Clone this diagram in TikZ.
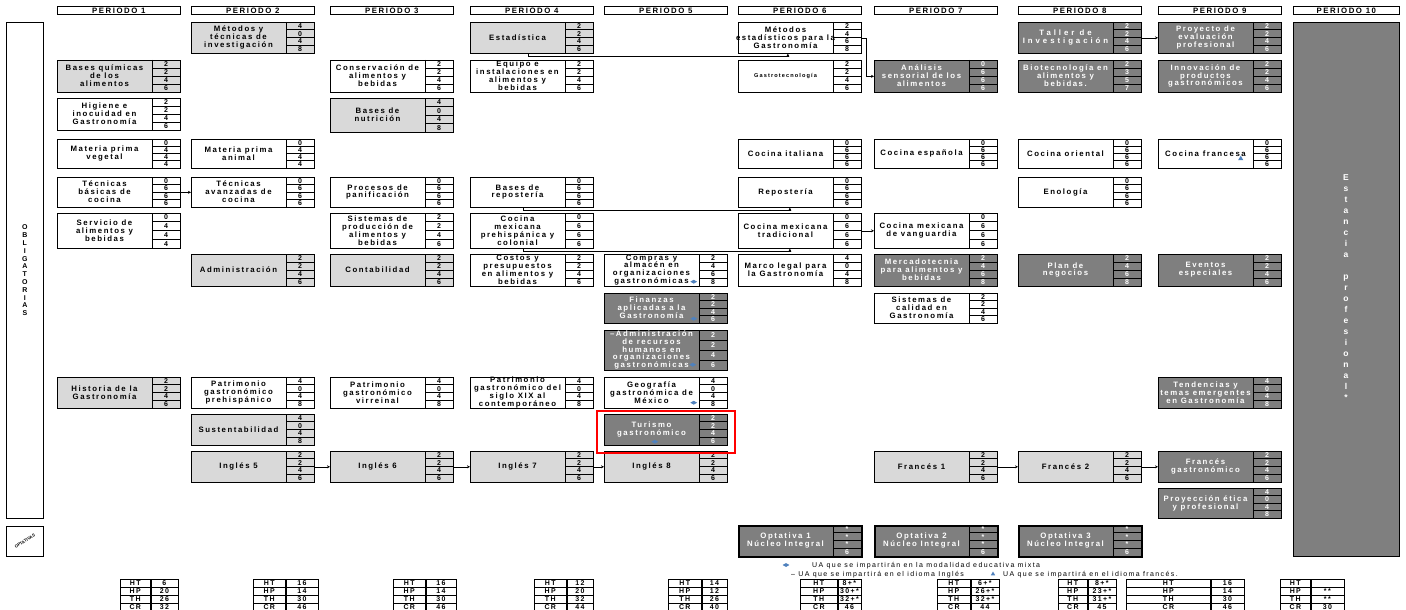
\documentclass[tikz,border=0pt]{standalone}
\usepackage{fontspec}
\setmainfont{Liberation Sans}
\newfontfamily\uaf{Liberation Sans}[LetterSpace=20]
\usepackage{tikz}
\usetikzlibrary{positioning,arrows.meta,shapes.geometric}

\definecolor{lgray}{HTML}{D9D9D9}
\definecolor{dgray}{HTML}{7F7F7F}
\definecolor{uablue}{HTML}{4F81BD}

\def\uaw{123}
\def\numw{28}

% one unidad de aprendizaje: kind, name, x, top, bottom, text, HT/HP/TH/CR
\newcommand\uabox[7]{%
  \node[ua, #1box, minimum height={#5-#4}, anchor=north west] (#2) at (#3,#4) {};
  \node[uatxt, #1txt] (#2t) at ({#3+(\uaw-\numw)/2},{(#4+#5)/2}) {#6};
  \draw[cell] ({#3+\uaw-\numw},#4) -- ({#3+\uaw-\numw},#5);
  \foreach \val [count=\idx] in {#7} {
    \node[num, #1txt] at ({#3+\uaw-\numw/2},{#4+(\idx-0.5)*(#5-#4)/4}) {\val};
    \ifnum\idx<4 \draw[cell] ({#3+\uaw-\numw},{#4+\idx*(#5-#4)/4}) -- ++(\numw,0);\fi
  }
}

% totals table under a period: name, x, label width, value width, pairs
\newcommand\totales[5]{%
  \foreach \lab/\val [count=\idx] in {#5} {
    \node[tcell, minimum width=#3, anchor=north west] (#1l\idx) at (#2,{579+(\idx-1)*8}) {\lab};
    \node[tcell, minimum width=#4, anchor=west] (#1v\idx) at (#1l\idx.east) {\val};
  }
}

\begin{document}
\begin{tikzpicture}[
  x=1pt, y=-1pt,
  ua/.style={draw, line width=0.7pt, inner sep=0pt, minimum width=\uaw},
  wbox/.style={fill=white},
  lbox/.style={fill=lgray},
  dbox/.style={fill=dgray},
  obox/.style={fill=dgray, line width=1.8pt},
  wtxt/.style={text=black},
  ltxt/.style={text=black},
  dtxt/.style={text=white},
  otxt/.style={text=white},
  uatxt/.style={align=center, inner sep=0pt, font=\uaf\bfseries\fontsize{7.8}{7.9}\selectfont},
  num/.style={inner sep=0pt, font=\bfseries\fontsize{7}{7}\selectfont},
  cell/.style={line width=0.6pt},
  head/.style={draw, line width=0.7pt, anchor=north west, minimum width=\uaw, minimum height=8,
    inner sep=0pt, font=\uaf\bfseries\fontsize{7.8}{7.8}\selectfont},
  tcell/.style={draw, line width=0.6pt, minimum height=8, inner sep=0pt,
    font=\uaf\bfseries\fontsize{7}{7}\selectfont},
  link/.style={-{Stealth[length=3pt,width=3pt]}, line width=0.6pt},
  mixta/.style={diamond, fill=uablue, minimum width=7, minimum height=4, inner sep=0pt},
  frances/.style={regular polygon, regular polygon sides=3, fill=uablue, minimum size=6, inner sep=0pt},
  hilite/.style={draw=red, line width=2pt},
  legend/.style={inner sep=0pt, font=\uaf\fontsize{7}{7}\selectfont}
]
\useasboundingbox (0,0) rectangle (1406,610);
\fill[white] (0,0) rectangle (1406,610);

% headers
\node[head] (p1) at (57,6) {PERIODO 1};
\node[head] (p2) at (191,6) {PERIODO 2};
\node[head] (p3) at (330,6) {PERIODO 3};
\node[head] (p4) at (470,6) {PERIODO 4};
\node[head] (p5) at (604,6) {PERIODO 5};
\node[head] (p6) at (738,6) {PERIODO 6};
\node[head] (p7) at (874,6) {PERIODO 7};
\node[head] (p8) at (1018,6) {PERIODO 8};
\node[head] (p9) at (1158,6) {PERIODO 9};
\node[head, minimum width=106] (p10) at (1293,6) {PERIODO 10};

% left labels
\node[ua, minimum width=37, minimum height=496, anchor=north west] (obl) at (6,22) {};
\node[uatxt, font=\uaf\bfseries\fontsize{7}{7.8}\selectfont] (oblt) at (obl.center) {O\\B\\L\\I\\G\\A\\T\\O\\R\\I\\A\\S};
\node[ua, minimum width=37, minimum height=30, anchor=north west] (opt) at (6,526) {};
\node[rotate=32, inner sep=0pt, font=\bfseries\fontsize{4.2}{4}\selectfont] (optt) at (opt.center) {OPTATIVAS};

% periodo 1
\uabox{l}{bq}{57}{60}{92}{Bases químicas\\de los\\alimentos}{2,2,4,6}
\uabox{w}{hig}{57}{98}{130}{Higiene e\\inocuidad en\\Gastronomía}{2,2,4,6}
\uabox{w}{mpv}{57}{139}{168}{Materia prima\\vegetal}{0,4,4,4}
\uabox{w}{tbc}{57}{177}{207}{Técnicas\\básicas de\\cocina}{0,6,6,6}
\uabox{w}{sab}{57}{213}{248}{Servicio de\\alimentos y\\bebidas}{0,4,4,4}
\uabox{l}{hga}{57}{377}{408}{Historia de la\\Gastronomía}{2,2,4,6}
% periodo 2
\uabox{l}{mti}{191}{22}{53}{Métodos y\\técnicas de\\investigación}{4,0,4,8}
\uabox{w}{mpa}{191}{139}{168}{Materia prima\\animal}{0,4,4,4}
\uabox{w}{tac}{191}{177}{207}{Técnicas\\avanzadas de\\cocina}{0,6,6,6}
\uabox{l}{adm}{191}{254}{286}{Administración}{2,2,4,6}
\uabox{w}{pgp}{191}{377}{408}{Patrimonio\\gastronómico\\prehispánico}{4,0,4,8}
\uabox{l}{sus}{191}{414}{445}{Sustentabilidad}{4,0,4,8}
\uabox{l}{in5}{191}{451}{482}{Inglés 5}{2,2,4,6}
% periodo 3
\uabox{w}{cab}{330}{60}{92}{Conservación de\\alimentos y\\bebidas}{2,2,4,6}
\uabox{l}{bnu}{330}{98}{132}{Bases de\\nutrición}{4,0,4,8}
\uabox{w}{ppa}{330}{177}{207}{Procesos de\\panificación}{0,6,6,6}
\uabox{w}{spa}{330}{213}{248}{Sistemas de\\producción de\\alimentos y\\bebidas}{2,2,4,6}
\uabox{l}{con}{330}{254}{286}{Contabilidad}{2,2,4,6}
\uabox{w}{pgv}{330}{377}{408}{Patrimonio\\gastronómico\\virreinal}{4,0,4,8}
\uabox{l}{in6}{330}{451}{482}{Inglés 6}{2,2,4,6}
% periodo 4
\uabox{l}{est}{470}{22}{53}{Estadística}{2,2,4,6}
\uabox{w}{eia}{470}{60}{92}{Equipo e\\instalaciones en\\alimentos y\\bebidas}{2,2,4,6}
\uabox{w}{bre}{470}{177}{207}{Bases de\\repostería}{0,6,6,6}
\uabox{w}{cmp}{470}{213}{248}{Cocina\\mexicana\\prehispánica y\\colonial}{0,6,6,6}
\uabox{w}{cpa}{470}{254}{286}{Costos y\\presupuestos\\en alimentos y\\bebidas}{2,2,4,6}
\uabox{w}{pgs}{470}{377}{408}{Patrimonio\\gastronómico del\\siglo XIX al\\contemporáneo}{4,0,4,8}
\uabox{l}{in7}{470}{451}{482}{Inglés 7}{2,2,4,6}
% periodo 5
\uabox{w}{cao}{604}{254}{286}{Compras y\\almacén en\\organizaciones\\gastronómicas}{2,4,6,8}
\uabox{d}{fag}{604}{293}{323}{Finanzas\\aplicadas a la\\Gastronomía}{2,2,4,6}
\uabox{d}{arh}{604}{330}{370}{–Administración\\de recursos\\humanos en\\organizaciones\\gastronómicas}{2,2,4,6}
\uabox{w}{ggm}{604}{377}{408}{Geografía\\gastronómica de\\México}{4,0,4,8}
\uabox{d}{tur}{604}{414}{445}{Turismo\\gastronómico}{2,2,4,6}
\uabox{l}{in8}{604}{451}{482}{Inglés 8}{2,2,4,6}
% periodo 6
\uabox{w}{meg}{738}{22}{53}{Métodos\\estadísticos para la\\Gastronomía}{2,4,6,8}
\uabox{w}{gtc}{738}{60}{92}{{\fontsize{5.6}{6}\selectfont Gastrotecnología}}{2,2,4,6}
\uabox{w}{cit}{738}{139}{168}{Cocina italiana}{0,6,6,6}
\uabox{w}{rep}{738}{177}{207}{Repostería}{0,6,6,6}
\uabox{w}{cmt}{738}{213}{248}{Cocina mexicana\\tradicional}{0,6,6,6}
\uabox{w}{mlg}{738}{254}{286}{Marco legal para\\la Gastronomía}{4,0,4,8}
\uabox{o}{op1}{738}{525}{556}{Optativa 1\\Núcleo Integral}{*,*,*,6}
% periodo 7
\uabox{d}{asa}{874}{60}{92}{Análisis\\sensorial de los\\alimentos}{0,6,6,6}
\uabox{w}{ces}{874}{139}{168}{Cocina española}{0,6,6,6}
\uabox{w}{cmv}{874}{213}{248}{Cocina mexicana\\de vanguardia}{0,6,6,6}
\uabox{d}{mab}{874}{254}{286}{Mercadotecnia\\para alimentos y\\bebidas}{2,4,6,8}
\uabox{w}{scg}{874}{293}{323}{Sistemas de\\calidad en\\Gastronomía}{2,2,4,6}
\uabox{l}{fr1}{874}{451}{482}{Francés 1}{2,2,4,6}
\uabox{o}{op2}{874}{525}{556}{Optativa 2\\Núcleo Integral}{*,*,*,6}
% periodo 8
\uabox{d}{tin}{1018}{22}{53}{\addfontfeature{LetterSpace=38}Taller de\\\addfontfeature{LetterSpace=38}Investigación}{2,2,4,6}
\uabox{d}{bio}{1018}{60}{92}{Biotecnología en\\alimentos y\\bebidas.}{2,3,5,7}
\uabox{w}{cor}{1018}{139}{168}{Cocina oriental}{0,6,6,6}
\uabox{w}{eno}{1018}{177}{207}{Enología}{0,6,6,6}
\uabox{d}{pne}{1018}{254}{286}{Plan de\\negocios}{2,4,6,8}
\uabox{l}{fr2}{1018}{451}{482}{Francés 2}{2,2,4,6}
\uabox{o}{op3}{1018}{525}{556}{Optativa 3\\Núcleo Integral}{*,*,*,6}
% periodo 9
\uabox{d}{pep}{1158}{22}{53}{Proyecto de\\evaluación\\profesional}{2,2,4,6}
\uabox{d}{ipg}{1158}{60}{92}{Innovación de\\productos\\gastronómicos}{2,2,4,6}
\uabox{w}{cfr}{1158}{139}{168}{Cocina francesa}{0,6,6,6}
\uabox{d}{eve}{1158}{254}{286}{Eventos\\especiales}{2,2,4,6}
\uabox{d}{tte}{1158}{377}{408}{Tendencias y\\temas emergentes\\en Gastronomía}{4,0,4,8}
\uabox{d}{frg}{1158}{451}{482}{Francés\\gastronómico}{2,2,4,6}
\uabox{d}{pet}{1158}{488}{518}{Proyección ética\\y profesional}{4,0,4,8}
% periodo 10
\node[ua, dbox, minimum width=106, minimum height=534, anchor=north west] (epr) at (1293,22) {};
\node[uatxt, dtxt, font=\uaf\bfseries\fontsize{8.5}{11}\selectfont] (eprt) at (1346,288)
  {E\\s\\t\\a\\n\\c\\i\\a\\\mbox{}\\p\\r\\o\\f\\e\\s\\i\\o\\n\\a\\l\\*};

% seriation
\draw[link] (tbc.east) -- (tac.west);
\draw[link] (in5.east) -- (in6.west);
\draw[link] (in6.east) -- (in7.west);
\draw[link] (in7.east) -- (in8.west);
\draw[link] (fr1.east) -- (fr2.west);
\draw[link] (fr2.east) -- (frg.west);
\draw[link] (tin.east) -- (pep.west);
\draw[link] (cmt.east) -- (cmv.west);
\draw[link] ([xshift=-4pt]est.south) -- ++(0,3) -| ([xshift=-12pt]meg.south);
\draw[link] (meg.east) -- ++(5,0) |- (asa.west);
\draw[link] ([xshift=-9pt]bre.south) -- ++(0,3) -| ([xshift=-10pt]rep.south);
\draw[link] ([xshift=-9pt]cmp.south) -- ++(0,3) -| ([xshift=-10pt]cmt.south);

% markers
\node[mixta] (mx1) at ([xshift=-34pt,yshift=5pt]cao.south east) {};
\node[mixta] (mx2) at ([xshift=-34pt,yshift=5pt]fag.south east) {};
\node[mixta] (mx3) at ([xshift=-35pt,yshift=6pt]arh.south east) {};
\node[mixta] (mx4) at ([xshift=-34pt,yshift=6pt]ggm.south east) {};
\node[mixta] (mx5) at ([xshift=-11pt,yshift=4pt]tur.south) {};
\node[frances] (fx1) at ([xshift=-41pt,yshift=10pt]cfr.south east) {};
\draw[hilite] ([xshift=-7pt,yshift=3pt]tur.north west) rectangle ([xshift=7pt,yshift=-7pt]tur.south east);

% legend
\node[mixta] (lg1) at (786,565) {};
\node[legend, anchor=west] (lgt1) at (812,566) {UA que se impartirán en la modalidad educativa mixta};
\node[legend, anchor=west] (lgt2) at (791,575) {– UA que se impartirá en el idioma Inglés};
\node[frances, minimum size=5] (lg2) at (993,574) {};
\node[legend, anchor=west] (lgt3) at (1003,575) {UA que se impartirá en el idioma francés.};

% totals
\totales{ta}{120}{30}{27}{HT/6,HP/20,TH/26,CR/32}
\totales{tb}{253}{32}{32}{HT/16,HP/14,TH/30,CR/46}
\totales{tc}{393}{32}{30}{HT/16,HP/14,TH/30,CR/46}
\totales{td}{534}{32}{26}{HT/12,HP/20,TH/32,CR/44}
\totales{te}{668}{33}{25}{HT/14,HP/12,TH/26,CR/40}
\totales{tf}{800}{37}{23}{HT/8+*,HP/30+*,TH/32+*,CR/46}
\totales{tg}{937}{33}{28}{HT/6+*,HP/26+*,TH/32+*,CR/44}
\totales{th}{1058}{29}{28}{HT/8+*,HP/23+*,TH/31+*,CR/45}
\totales{ti}{1126}{84}{33}{HT/16,HP/14,TH/30,CR/46}
\totales{tj}{1280}{30}{33}{HT/,HP/**,TH/**,CR/30}
\end{tikzpicture}
\end{document}
